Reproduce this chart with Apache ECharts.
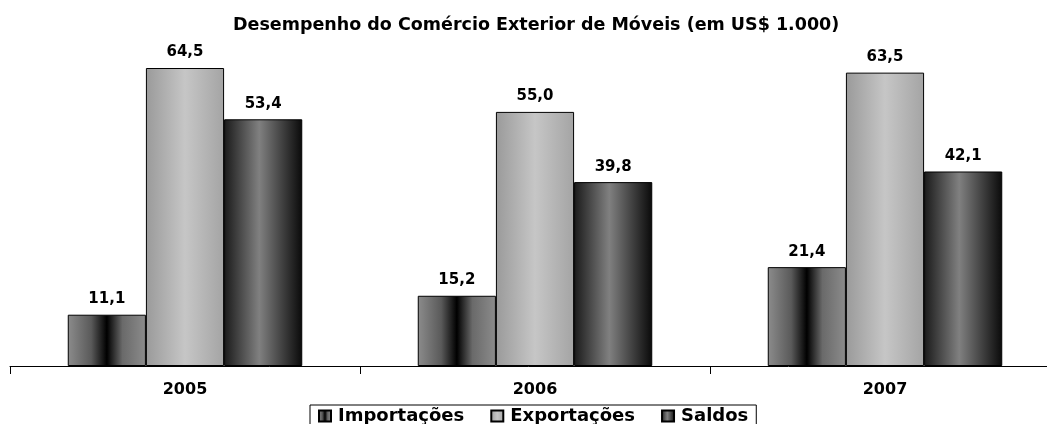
<!DOCTYPE html>
<html>
<head>
<meta charset="utf-8">
<script src="https://cdn.jsdelivr.net/npm/echarts@6/dist/echarts.min.js"></script>
<style>
  html, body { margin: 0; padding: 0; background: #fff; }
  #main { width: 1047px; height: 424px; }
</style>
</head>
<body>
<div id="main"></div>
<script>
var years = ['2005', '2006', '2007'];
var importacoes = [11.1, 15.2, 21.4];
var exportacoes = [64.5, 55.0, 63.5];
var saldos = [53.4, 39.8, 42.1];

var FONT = 'DejaVu Sans';

function grad(stops) {
  return new echarts.graphic.LinearGradient(0, 0, 1, 0, stops);
}
var impColor = grad([
  { offset: 0, color: '#8c8c8c' },
  { offset: 0.3, color: '#5a5a5a' },
  { offset: 0.5, color: '#000000' },
  { offset: 0.7, color: '#6a6a6a' },
  { offset: 1, color: '#8c8c8c' }
]);
var expColor = grad([
  { offset: 0, color: '#9a9a9a' },
  { offset: 0.5, color: '#c6c6c6' },
  { offset: 1, color: '#a4a4a4' }
]);
var salColor = grad([
  { offset: 0, color: '#1a1a1a' },
  { offset: 0.45, color: '#808080' },
  { offset: 1, color: '#0a0a0a' }
]);

function fmt(p) {
  return p.value.toFixed(1).replace('.', ',');
}

var labelStyle = {
  show: true,
  position: 'top',
  distance: 8,
  formatter: fmt,
  color: '#000',
  fontFamily: FONT,
  fontWeight: 'bold',
  fontSize: 15
};

var chart = echarts.init(document.getElementById('main'), null, { renderer: 'canvas' });

var option = {
  backgroundColor: '#ffffff',
  animation: false,
  title: {
    text: 'Desempenho do Comércio Exterior de Móveis (em US$ 1.000)',
    left: 228,
    top: 11,
    textStyle: { fontFamily: FONT, fontWeight: 'bold', fontSize: 17.5, color: '#000' }
  },
  legend: {
    bottom: -7,
    left: 310,
    itemWidth: 12,
    itemHeight: 11,
    itemGap: 26,
    padding: [2, 8, 6, 8],
    borderColor: '#000',
    borderWidth: 1,
    icon: 'rect',
    selectedMode: false,
    textStyle: { fontFamily: FONT, fontWeight: 'bold', fontSize: 18, color: '#000', padding: [0, 0, 0, 2] },
    data: ['Importações', 'Exportações', 'Saldos']
  },
  grid: { left: 10, right: -13, top: 42.6, bottom: 58, outerBoundsMode: 'none', containLabel: false },
  xAxis: {
    type: 'category',
    data: years,
    axisLine: { lineStyle: { color: '#000', width: 1 } },
    axisTick: { show: true, length: 8, lineStyle: { color: '#000' } },
    axisLabel: { color: '#000', fontFamily: FONT, fontWeight: 'bold', fontSize: 16, margin: 16 }
  },
  yAxis: {
    type: 'value',
    min: 0,
    max: 70,
    show: false,
    splitLine: { show: false }
  },
  series: [
    {
      name: 'Importações',
      type: 'bar',
      data: importacoes,
      barGap: '0%',
      barCategoryGap: '33%',
      itemStyle: { color: impColor, borderColor: '#000', borderWidth: 1 },
      label: labelStyle
    },
    {
      name: 'Exportações',
      type: 'bar',
      data: exportacoes,
      itemStyle: { color: expColor, borderColor: '#000', borderWidth: 1 },
      label: labelStyle
    },
    {
      name: 'Saldos',
      type: 'bar',
      data: saldos,
      itemStyle: { color: salColor, borderColor: '#000', borderWidth: 1 },
      label: labelStyle
    }
  ]
};

chart.setOption(option);
</script>
</body>
</html>
